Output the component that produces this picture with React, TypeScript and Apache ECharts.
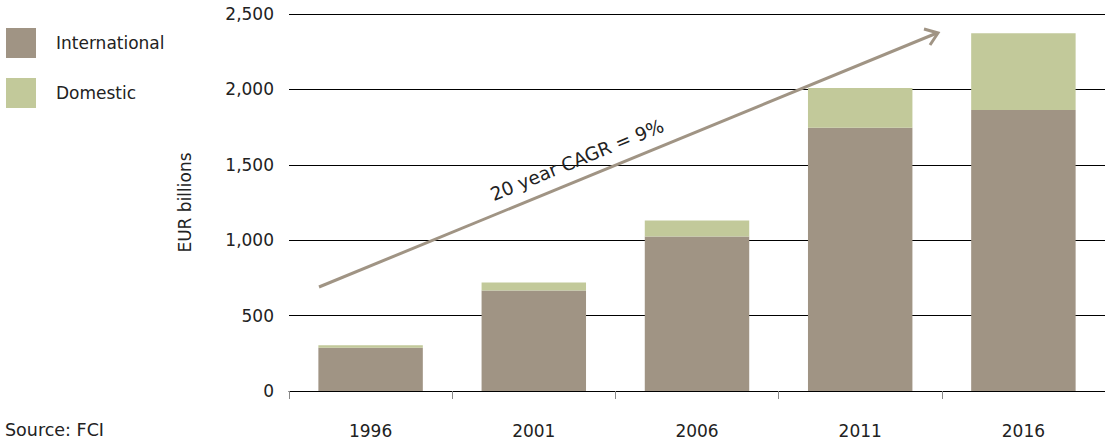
import React, { useEffect, useRef } from "react";
import * as echarts from "echarts";

const years = ["1996", "2001", "2006", "2011", "2016"];
const international = [286, 667, 1024, 1745, 1864];
const domestic = [18, 53, 106, 265, 509];
const yTicks = [0, 500, 1000, 1500, 2000, 2500];

const FONT = "'DejaVu Sans', 'Noto Sans', sans-serif";
const INTL = "#a09484";
const DOM = "#c2c99a";
const TXT = "#222";

export default function App() {
  const ref = useRef<HTMLDivElement>(null);
  useEffect(() => {
    document.body.style.margin = "0";
    document.body.style.overflow = "hidden";
    const chart = echarts.init(ref.current!, null, { renderer: "svg" });
    chart.setOption({
      animation: false,
      textStyle: { fontFamily: FONT },
      grid: { left: 289, top: 14, bottom: 52, right: -7 },
      legend: {
        orient: "vertical",
        left: 6,
        top: 28,
        padding: 0,
        itemWidth: 30,
        itemHeight: 30,
        itemGap: 20,
        icon: "rect",
        textStyle: { fontFamily: FONT, fontSize: 17, color: TXT, padding: [0, 0, 0, 15] },
        data: ["International", "Domestic"],
      },
      xAxis: {
        type: "category",
        data: years,
        axisLine: { lineStyle: { color: "#000", width: 1 } },
        axisTick: { show: true, length: 8, lineStyle: { color: "#888" } },
        axisLabel: { fontFamily: FONT, fontSize: 17, color: TXT, margin: 31 },
      },
      yAxis: {
        type: "value",
        min: yTicks[0],
        max: yTicks[yTicks.length - 1],
        interval: 500,
        name: "EUR billions",
        nameLocation: "middle",
        nameGap: 96,
        nameTextStyle: { fontFamily: FONT, fontSize: 17, color: TXT },
        axisLine: { show: false },
        axisTick: { show: false },
        splitLine: { lineStyle: { color: "#000", width: 1 } },
        axisLabel: {
          fontFamily: FONT,
          fontSize: 17,
          color: TXT,
          margin: 15,
          formatter: (v: number) => v.toLocaleString("en-US"),
        },
      },
      series: [
        {
          name: "International",
          type: "bar",
          stack: "total",
          data: international,
          itemStyle: { color: INTL },
          barCategoryGap: "36%",
        },
        {
          name: "Domestic",
          type: "bar",
          stack: "total",
          data: domestic,
          itemStyle: { color: DOM },
          barCategoryGap: "36%",
        },
      ],
      graphic: [
        {
          type: "line",
          shape: { x1: 319, y1: 287, x2: 937, y2: 33 },
          style: { stroke: INTL, lineWidth: 3 },
          z: 100,
        },
        {
          type: "polyline",
          shape: { points: [[924, 29], [938, 33], [930, 45]] },
          style: { stroke: INTL, lineWidth: 3, fill: null },
          z: 100,
        },
        {
          type: "text",
          x: 577,
          y: 160,
          rotation: (22.3 * Math.PI) / 180,
          style: {
            text: "20 year CAGR = 9%",
            fontFamily: FONT,
            fontSize: 18.5,
            fill: TXT,
            align: "center",
            verticalAlign: "middle",
          },
          z: 100,
        },
        {
          type: "text",
          left: 5,
          top: 421,
          style: { text: "Source: FCI", fontFamily: FONT, fontSize: 17.5, fill: TXT },
        },
      ],
    });
    return () => chart.dispose();
  }, []);
  return <div ref={ref} style={{ width: 1105, height: 443 }} />;
}
